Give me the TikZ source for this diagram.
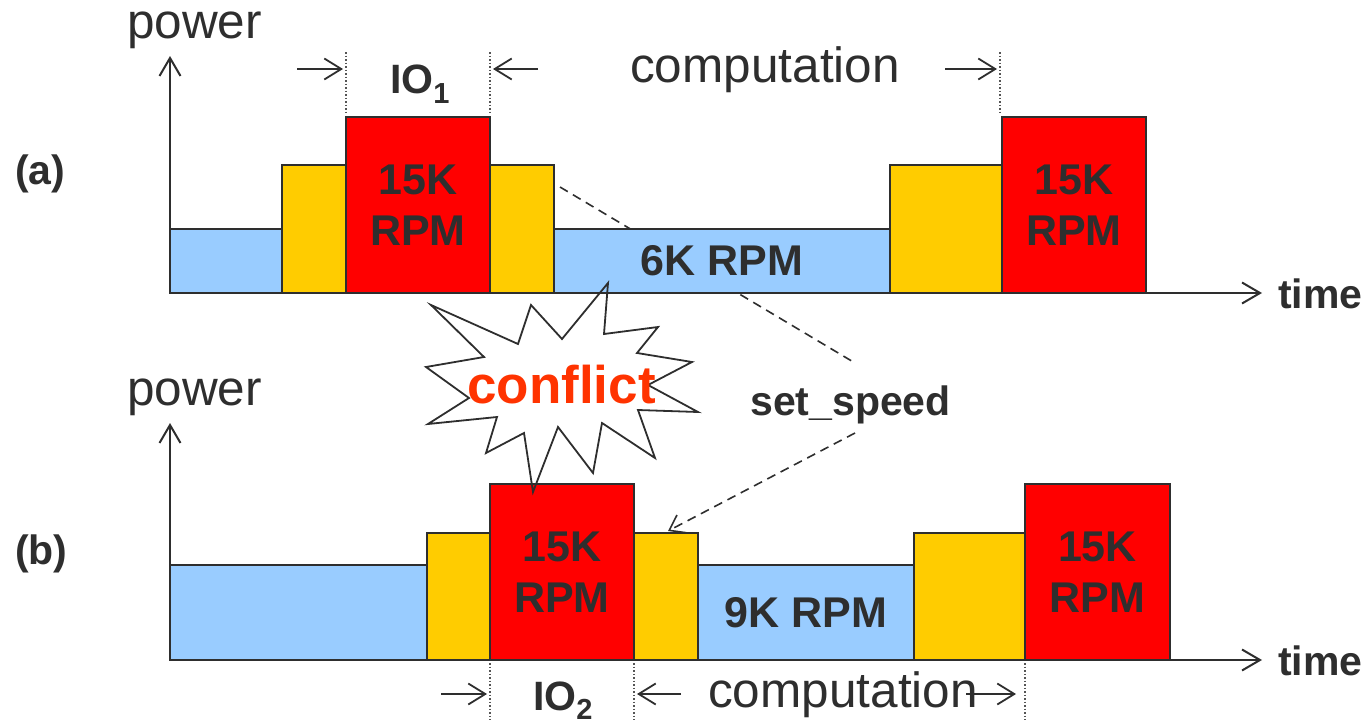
\documentclass[tikz,border=0pt]{standalone}
\usepackage{fontspec}
\setmainfont{Liberation Sans}
\usetikzlibrary{arrows.meta}
\definecolor{ink}{HTML}{2E2E2E}
\definecolor{fastred}{HTML}{FF0000}
\definecolor{rampyellow}{HTML}{FFCC00}
\definecolor{slowblue}{HTML}{99CCFF}
\definecolor{alert}{HTML}{FF3300}
\definecolor{guide}{HTML}{555555}

\begin{document}
\begin{tikzpicture}[x=1pt,y=-1pt,
  barbox/.style={draw=ink, line width=2pt},
  boxtext/.style={text=ink, align=center, inner sep=0pt,
    font=\fontsize{43}{51}\selectfont\bfseries},
  axis/.style={draw=ink, line width=2.7pt,
    -{Straight Barb[length=18pt,width=21pt,line width=2pt]}},
  dimarrow/.style={draw=ink, line width=1.8pt,
    -{Straight Barb[length=17pt,width=21pt,line width=1.8pt]}},
  guideline/.style={draw=guide, line width=1.5pt, dash pattern=on 1.5pt off 2pt},
  dashlink/.style={draw=ink, line width=1.6pt, dash pattern=on 9pt off 6pt},
  plain/.style={text=ink, inner sep=0pt, anchor=base west,
    font=\fontsize{49.5}{49.5}\selectfont},
  bold/.style={text=ink, inner sep=0pt, anchor=base west,
    font=\fontsize{41}{41}\selectfont\bfseries}
]
\useasboundingbox (0,0) rectangle (1371,720);

% set_speed pointer, first leg (passes behind the 6K bar)
\coordinate (ssfrom) at (560,187);
\coordinate (ssupper) at (855,363);
\draw[dashlink] (ssfrom) -- (ssupper);

% ---------- (a) timeline ----------
\draw[barbox, fill=slowblue]   (170,293) rectangle (282,229) node[midway] (a1) {};
\draw[barbox, fill=rampyellow] (282,293) rectangle (346,165) node[midway] (a2) {};
\draw[barbox, fill=fastred]    (346,293) rectangle (490,117) node[midway, boxtext] (a3) {15K\\RPM};
\draw[barbox, fill=rampyellow] (490,293) rectangle (554,165) node[midway] (a4) {};
\draw[barbox, fill=slowblue]   (554,293) rectangle (890,229) node[midway, boxtext] (a5) {6K RPM};
\draw[barbox, fill=rampyellow] (890,293) rectangle (1002,165) node[midway] (a6) {};
\draw[barbox, fill=fastred]    (1002,293) rectangle (1146,117) node[midway, boxtext] (a7) {15K\\RPM};

\coordinate (aorig) at (170,293);
\coordinate (aytop) at (170,56);
\coordinate (axend) at (1262,293);
\draw[axis] (aorig) -- (aytop);
\draw[axis] (aorig) -- (axend);

\node[plain] (apower) at (127,38) {power};
\node[bold] (alabel) at (15,184) {(a)};
\node[bold] (atime) at (1278,308) {time};

% IO_1 / computation markers
\coordinate (ag1t) at (346,52);  \coordinate (ag1b) at (346,114);
\coordinate (ag2t) at (490,52);  \coordinate (ag2b) at (490,114);
\coordinate (ag3t) at (1000,52); \coordinate (ag3b) at (1000,114);
\draw[guideline] (ag1t) -- (ag1b);
\draw[guideline] (ag2t) -- (ag2b);
\draw[guideline] (ag3t) -- (ag3b);
\coordinate (ad1s) at (297,69); \coordinate (ad1e) at (343,69);
\coordinate (ad2s) at (538,69); \coordinate (ad2e) at (493,69);
\coordinate (ad3s) at (945,69); \coordinate (ad3e) at (997,69);
\draw[dimarrow] (ad1s) -- (ad1e);
\draw[dimarrow] (ad2s) -- (ad2e);
\draw[dimarrow] (ad3s) -- (ad3e);
\node[bold] (io1) at (390,93) {IO\raisebox{-10pt}{\fontsize{29}{29}\selectfont 1}};
\node[plain] (acomp) at (630,82) {computation};

% ---------- (b) timeline ----------
\draw[barbox, fill=slowblue]   (170,660) rectangle (427,565) node[midway] (b1) {};
\draw[barbox, fill=rampyellow] (427,660) rectangle (490,533) node[midway] (b2) {};
\draw[barbox, fill=fastred]    (490,660) rectangle (634,484) node[midway, boxtext] (b3) {15K\\RPM};
\draw[barbox, fill=rampyellow] (634,660) rectangle (698,533) node[midway] (b4) {};
\draw[barbox, fill=slowblue]   (698,660) rectangle (914,565) node[midway, boxtext] (b5) {9K RPM};
\draw[barbox, fill=rampyellow] (914,660) rectangle (1025,533) node[midway] (b6) {};
\draw[barbox, fill=fastred]    (1025,660) rectangle (1170,484) node[midway, boxtext] (b7) {15K\\RPM};

\coordinate (borig) at (170,660);
\coordinate (bytop) at (170,423);
\coordinate (bxend) at (1262,660);
\draw[axis] (borig) -- (bytop);
\draw[axis] (borig) -- (bxend);

\node[plain] (bpower) at (127,405) {power};
\node[bold] (blabel) at (15,564) {(b)};
\node[bold] (btime) at (1278,675) {time};

% IO_2 / computation markers
\coordinate (bg1t) at (490,663);  \coordinate (bg1b) at (490,720);
\coordinate (bg2t) at (634,663);  \coordinate (bg2b) at (634,720);
\coordinate (bg3t) at (1025,663); \coordinate (bg3b) at (1025,720);
\draw[guideline] (bg1t) -- (bg1b);
\draw[guideline] (bg2t) -- (bg2b);
\draw[guideline] (bg3t) -- (bg3b);
\coordinate (bd1s) at (441,694); \coordinate (bd1e) at (487,694);
\coordinate (bd2s) at (681,694); \coordinate (bd2e) at (637,694);
\coordinate (bd3s) at (966,694); \coordinate (bd3e) at (1016,694);
\draw[dimarrow] (bd1s) -- (bd1e);
\draw[dimarrow] (bd2s) -- (bd2e);
\node[bold] (io2) at (533,710) {IO\raisebox{-9pt}{\fontsize{29}{29}\selectfont 2}};
\node[plain] (bcomp) at (708,707) {computation};
\draw[dimarrow] (bd3s) -- (bd3e);

% ---------- conflict burst ----------
\draw[draw=ink, line width=1.8pt, line join=miter]
  (608,283) -- (604,334) -- (658,327) -- (637,353) -- (692,362) --
  (648,385) -- (698,412) -- (638,410) -- (655,458) -- (602,423) --
  (593,473) -- (558,427) -- (533,492) -- (524,433) -- (486,453) --
  (497,417) -- (428,424) -- (469,398) -- (426,367) -- (484,357) --
  (431,305) -- (518,344) -- (531,305) -- (562,339) -- cycle;
\node[text=alert, inner sep=0pt, anchor=base west,
  font=\fontsize{53}{53}\selectfont\bfseries] (conflict) at (467,403) {conflict};

% ---------- set_speed ----------
\node[bold] (setspeed) at (750,415) {set\_speed};
\coordinate (sslower) at (855,433);
\coordinate (ssto) at (668,531);
\draw[dashlink, -{Straight Barb[length=14pt,width=20pt,line width=1.6pt]}] (sslower) -- (ssto);
\end{tikzpicture}
\end{document}
